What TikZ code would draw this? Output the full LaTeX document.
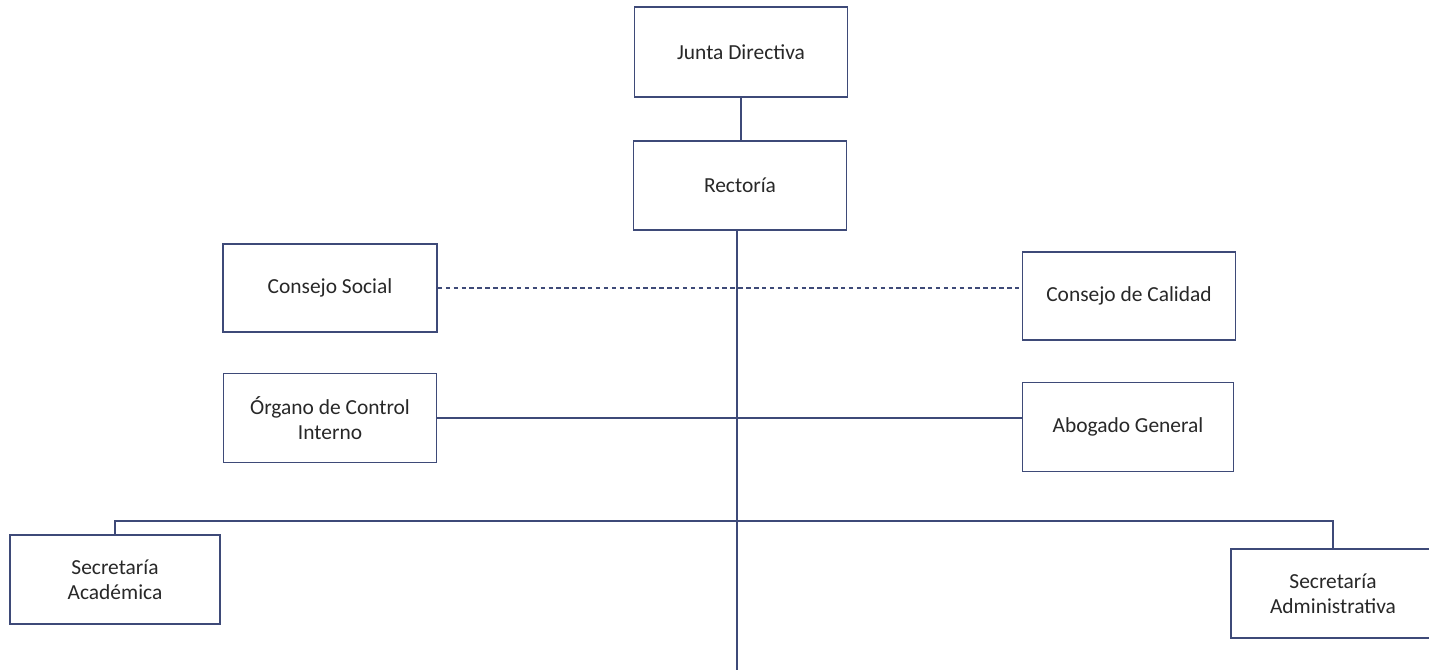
\documentclass[tikz,border=0pt]{standalone}
\usepackage{fontspec}
\setmainfont{Carlito}

\definecolor{lineblue}{RGB}{62,74,120}
\definecolor{textgray}{RGB}{40,40,40}

\begin{document}
\begin{tikzpicture}[x=0.02cm,y=-0.02cm,
    every node/.style={font=\fontsize{12.2}{14}\selectfont,text=textgray},
    unitbox/.style={draw=lineblue,line width=1pt,fill=white,
      align=center,inner sep=0pt},
    link/.style={draw=lineblue,line width=0.8pt}]

    \useasboundingbox (0,0) rectangle (1429,670);

    % top of the chart
    \node [unitbox,minimum width=4.26cm,minimum height=1.80cm] (junta)    at (741,52)    {Junta Directiva};
    \node [unitbox,minimum width=4.26cm,minimum height=1.78cm] (rectoria) at (740,185.5) {Rector\'ia};

    % advisory units
    \node [unitbox,minimum width=4.28cm,minimum height=1.76cm] (social)   at (330,288)   {Consejo Social};
    \node [unitbox,minimum width=4.26cm,minimum height=1.76cm] (calidad)  at (1129,296)  {Consejo de Calidad};
    \node [unitbox,minimum width=4.26cm,minimum height=1.78cm] (organo)   at (330,418)   {\'Organo de Control\\Interno};
    \node [unitbox,minimum width=4.22cm,minimum height=1.78cm] (abogado)  at (1128,427)  {Abogado General};

    % secretariats
    \node [unitbox,minimum width=4.20cm,minimum height=1.78cm] (academica)      at (115,579.5)  {Secretar\'ia\\Acad\'emica};
    \node [unitbox,minimum width=4.08cm,minimum height=1.78cm] (administrativa) at (1333,593.5) {Secretar\'ia\\Administrativa};

    \coordinate (bar)      at (737,521);
    \coordinate (trunkend) at (737,670);

    % connectors
    \draw [link] (junta.south) -- (junta.south |- rectoria.north);
    \draw [link] (rectoria.south -| bar) -- (trunkend);
    \draw [link,dash pattern=on 2.5pt off 2pt] (social.east) -- (social.east -| calidad.west);
    \draw [link] (organo.east) -- (organo.east -| abogado.west);
    \draw [link] (academica.north) -- (academica.north |- bar)
      -- (administrativa.north |- bar) -- (administrativa.north);

\end{tikzpicture}
\end{document}
